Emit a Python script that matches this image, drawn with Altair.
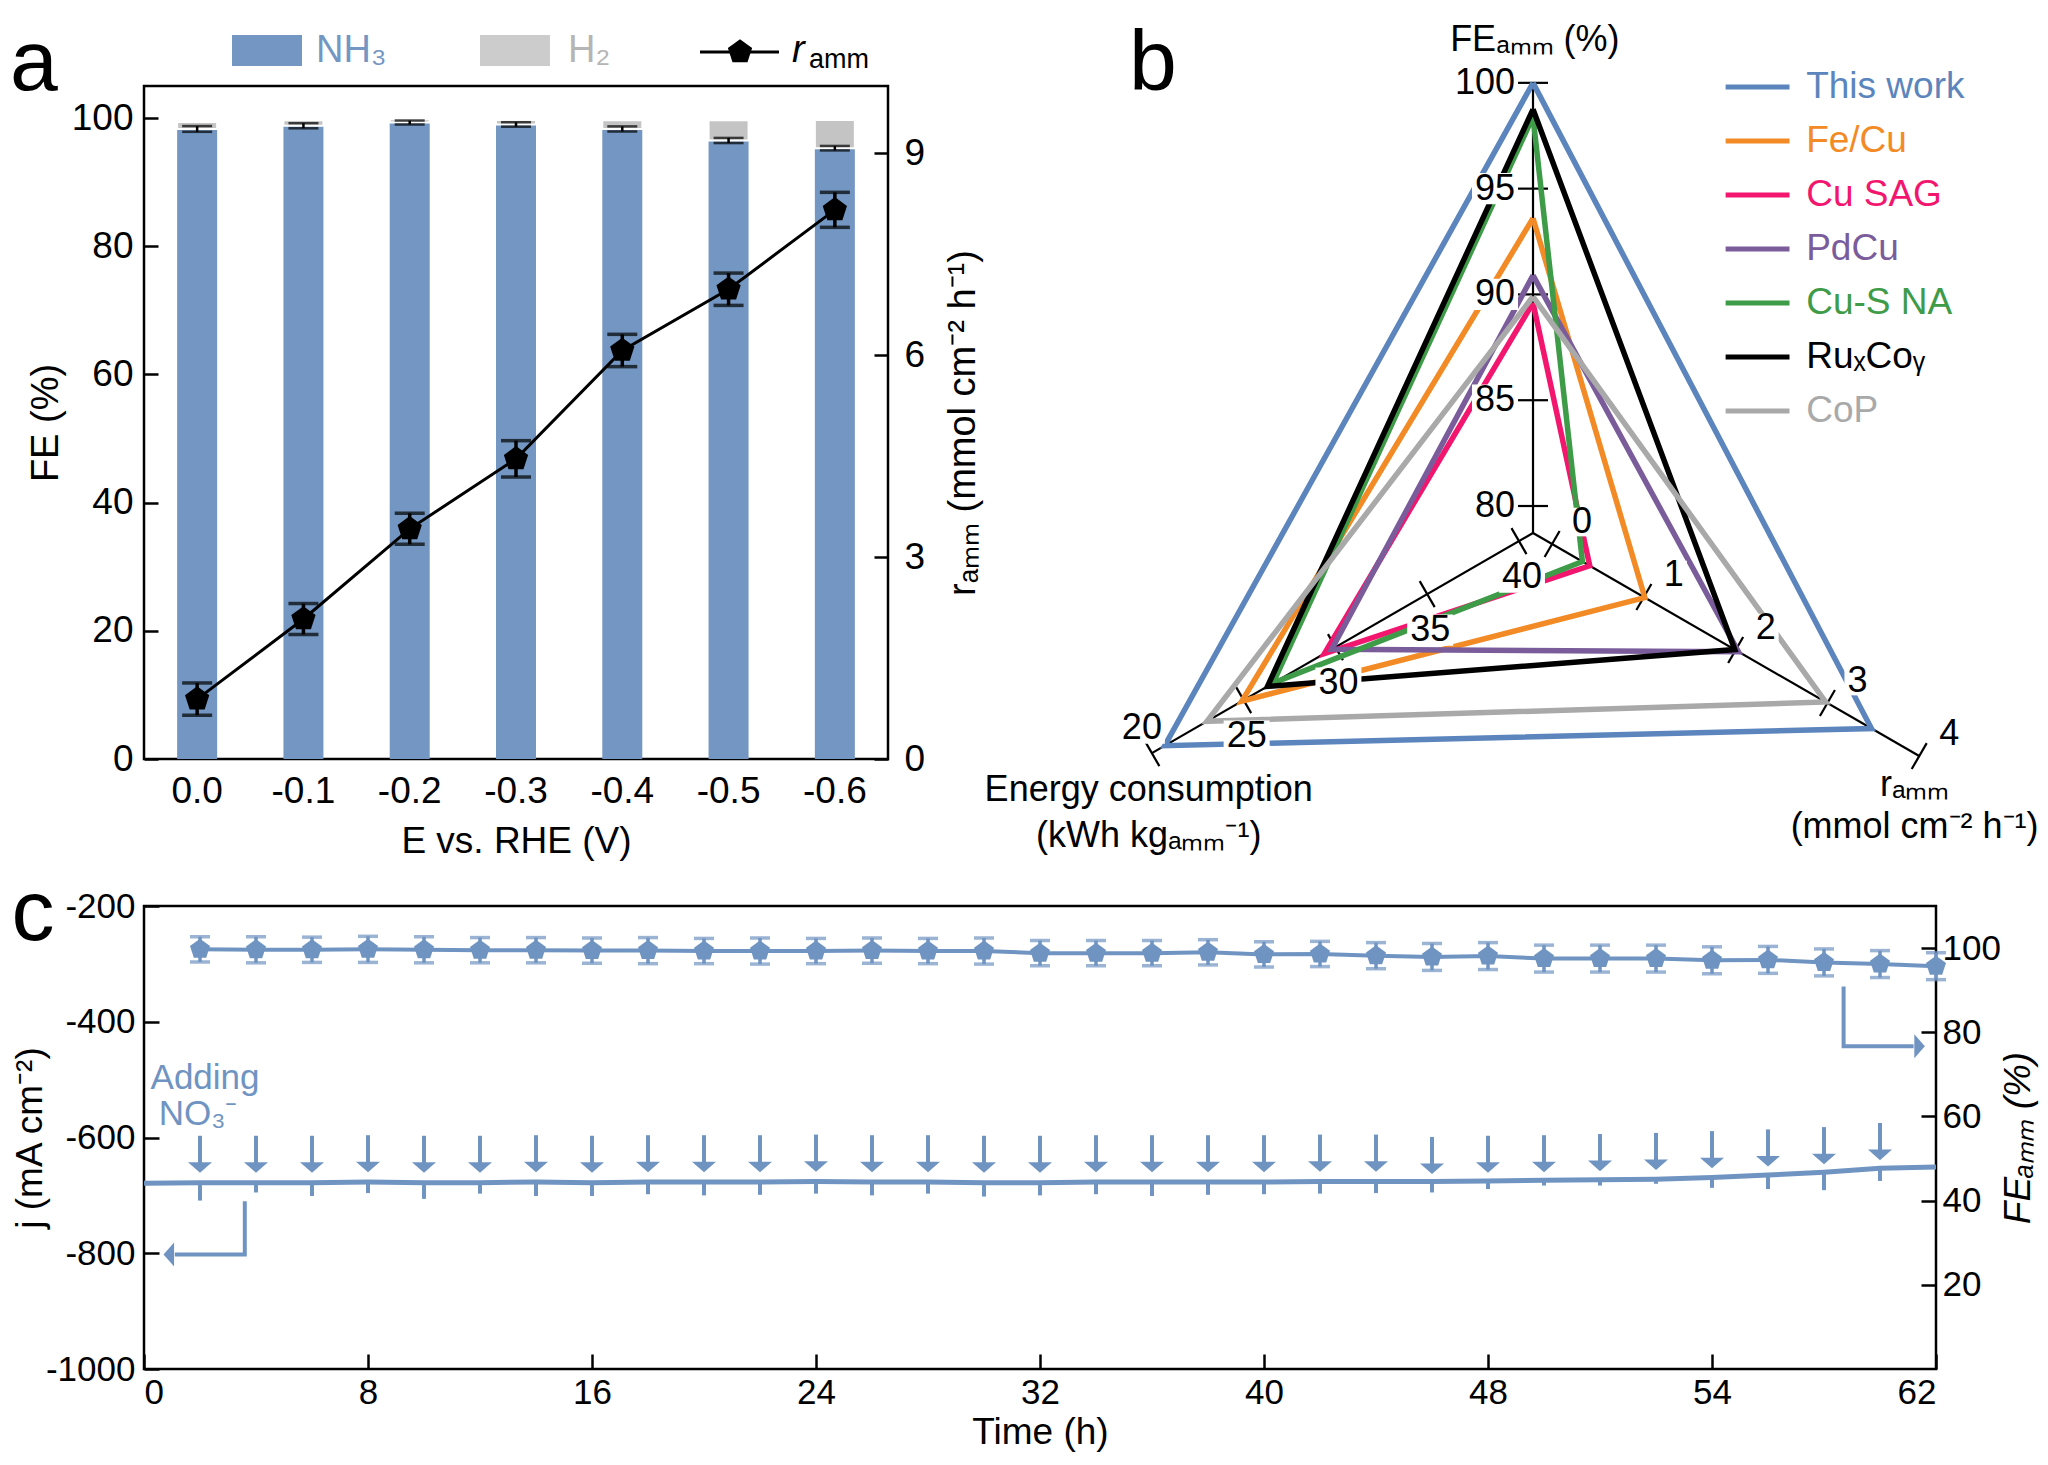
import pandas as pd
import altair as alt

FONT = "Liberation Sans"
BAR_BLUE = "#7396C2"
LINE_BLUE = "#7094C2"
H2_GRAY = "#C4C4C4"
PENTAGON = "M0,-1L0.951,-0.309L0.588,0.809L-0.588,0.809L-0.951,-0.309Z"

# ---------------- panel a: FE and ammonia yield rate vs potential
potentials = ["0.0", "-0.1", "-0.2", "-0.3", "-0.4", "-0.5", "-0.6"]
fe_nh3 = [98.3, 98.8, 99.3, 99.0, 98.3, 96.5, 95.3]
fe_nh3_err = [0.45, 0.4, 0.3, 0.35, 0.4, 0.4, 0.35]
fe_h2 = [1.1, 0.85, 0.5, 0.7, 1.35, 3.15, 4.4]
r_amm = [0.89, 2.08, 3.42, 4.46, 6.07, 6.98, 8.16]
r_amm_err = [0.24, 0.23, 0.23, 0.27, 0.24, 0.24, 0.26]

# ---------------- panel b: comparison triangle
samples = ["This work", "Fe/Cu", "Cu SAG", "PdCu", "Cu-S NA", "RuₓCoᵧ", "CoP"]
sample_colors = ["#5B85BC", "#F28A26", "#F2166E", "#7A5C9B", "#3E9B47", "#000000", "#A9A9A9"]
fe_amm_b = [100.0, 93.6, 89.6, 90.9, 98.4, 98.75, 89.9]
r_amm_b = [3.48, 1.01, 0.41, 2.03, 0.33, 1.99, 2.98]
energy_b = [20.7, 24.9, 29.4, 29.8, 26.6, 26.3, 23.0]
fe_ticks_b = [80, 85, 90, 95, 100]
r_ticks_b = [0, 1, 2, 3, 4]
e_ticks_b = [40, 35, 30, 25, 20]

# ---------------- panel c: stability test
time_ticks = [0, 8, 16, 24, 32, 40, 48, 56, 64]
time_labels = ["0", "8", "16", "24", "32", "40", "48", "54", "62"]
fe_time = [2, 4, 6, 8, 10, 12, 14, 16, 18, 20, 22, 24, 26, 28, 30, 32,
           34, 36, 38, 40, 42, 44, 46, 48, 50, 52, 54, 56, 58, 60, 62, 64]
fe_c = [99.7, 99.6, 99.6, 99.7, 99.6, 99.5, 99.5, 99.4, 99.4, 99.3, 99.3, 99.3, 99.4, 99.3, 99.3, 98.8,
        98.8, 98.8, 99.0, 98.5, 98.6, 98.2, 97.9, 98.1, 97.5, 97.5, 97.5, 97.1, 97.2, 96.6, 96.2, 95.7]
fe_c_err = [3.0, 3.1, 3.0, 3.1, 3.1, 3.0, 3.0, 3.0, 3.1, 3.0, 3.1, 3.0, 3.0, 3.0, 3.1, 3.0,
            3.0, 3.0, 3.0, 3.0, 3.0, 3.1, 3.2, 3.2, 3.2, 3.2, 3.2, 3.2, 3.2, 3.2, 3.2, 3.2]
j_time = [0, 2, 4, 6, 8, 10, 12, 14, 16, 18, 20, 22, 24, 26, 28, 30, 32,
          34, 36, 38, 40, 42, 44, 46, 48, 50, 52, 54, 56, 58, 60, 62, 64]
j_c = [-679, -678, -678, -678, -677, -678, -678, -677, -678, -677, -677, -677, -676, -677, -677, -678, -678,
       -677, -677, -677, -677, -676, -676, -676, -675, -674, -673, -672, -669, -665, -660, -653, -651]
add_time = [2, 4, 6, 8, 10, 12, 14, 16, 18, 20, 22, 24, 26, 28, 30, 32,
            34, 36, 38, 40, 42, 44, 46, 48, 50, 52, 54, 56, 58, 60, 62]
spike_c = [-709, -695, -701, -696, -706, -697, -701, -701, -698, -700, -699, -697, -700, -697, -702, -700,
           -698, -701, -699, -698, -697, -696, -695, -689, -683, -683, -680, -687, -689, -691, -675]
arrow_tip = [-661, -661, -661, -660, -661, -661, -660, -661, -660, -660, -660, -659, -660, -660, -661, -661,
             -660, -660, -660, -660, -659, -659, -663, -661, -660, -658, -656, -653, -650, -646, -639]
elbow_left_t = [3.6, 3.6, 1.1]
elbow_left_j = [-710, -802, -802]
elbow_right_t = [60.7, 60.7, 63.2]
elbow_right_fe = [90.9, 76.7, 76.7]

one_row = pd.DataFrame({"k": [0]})

# ======================= panel a
df_a = pd.DataFrame({"E": potentials, "nh3": fe_nh3, "nerr": fe_nh3_err, "h2": fe_h2,
                     "r": r_amm, "rerr": r_amm_err})
base_a = alt.Chart(df_a).transform_calculate(
    top="datum.nh3 + datum.h2",
    nlo="datum.nh3 - datum.nerr", nhi="datum.nh3 + datum.nerr",
    rlo="datum.r - datum.rerr", rhi="datum.r + datum.rerr",
)
x_a = alt.X("E:N", sort=potentials, scale=alt.Scale(paddingInner=0, paddingOuter=0),
            axis=alt.Axis(title="E vs. RHE (V)", labelAngle=0, ticks=False, tickSize=0,
                          labelFontSize=37, titleFontSize=37, labelPadding=14, titlePadding=14))
fe_scale = alt.Scale(domain=[0, 105], nice=False)
fe_axis = alt.Axis(title="FE (%)", values=[0, 20, 40, 60, 80, 100], tickSize=14, offset=-14,
                   labelFontSize=37, titleFontSize=38, labelPadding=11, titlePadding=6)
r_scale = alt.Scale(domain=[0, 10], nice=False)
r_axis = alt.Axis(title="rₐₘₘ (mmol cm⁻² h⁻¹)", orient="right", values=[0, 3, 6, 9], tickSize=14,
                  offset=-14, labelFontSize=37, titleFontSize=38, labelPadding=16, titlePadding=20,
                  titleAngle=270, titleBaseline="top")

nh3_bars = base_a.mark_bar(size=40, color=BAR_BLUE).encode(
    x=x_a, y=alt.Y("nh3:Q", scale=fe_scale, axis=fe_axis))
h2_bars = base_a.mark_bar(size=40, color=H2_GRAY, stroke="white", strokeWidth=2).encode(
    x=x_a, y=alt.Y("nh3:Q", scale=fe_scale, axis=fe_axis), y2="top:Q")
nh3_err = base_a.mark_rule(color="black", strokeWidth=2.5).encode(
    x=x_a, y=alt.Y("nlo:Q", scale=fe_scale, axis=fe_axis), y2="nhi:Q")
nh3_cap_lo = base_a.mark_tick(orient="horizontal", size=30, thickness=2.5, color="black").encode(
    x=x_a, y=alt.Y("nlo:Q", scale=fe_scale, axis=fe_axis))
nh3_cap_hi = base_a.mark_tick(orient="horizontal", size=30, thickness=2.5, color="black").encode(
    x=x_a, y=alt.Y("nhi:Q", scale=fe_scale, axis=fe_axis))

# legend and panel letter, placed in pixels above the plot
leg = alt.Chart(one_row)
leg_nh3 = leg.mark_rect(color=BAR_BLUE).encode(
    x=alt.value(88), x2=alt.value(158), y=alt.value(-51), y2=alt.value(-20))
leg_nh3_t = leg.mark_text(text="NH₃", align="left", fontSize=38, color=BAR_BLUE).encode(
    x=alt.value(172), y=alt.value(-35))
leg_h2 = leg.mark_rect(color="#CCCCCC").encode(
    x=alt.value(336), x2=alt.value(406), y=alt.value(-51), y2=alt.value(-20))
leg_h2_t = leg.mark_text(text="H₂", align="left", fontSize=38, color="#B5B5B5").encode(
    x=alt.value(424), y=alt.value(-35))
leg_r_line = leg.mark_rule(color="black", strokeWidth=3).encode(
    x=alt.value(556), x2=alt.value(635), y=alt.value(-34))
leg_r_pt = leg.mark_point(shape=PENTAGON, size=650, filled=True, color="black", opacity=1).encode(
    x=alt.value(596), y=alt.value(-34))
leg_r_t = leg.mark_text(text="r", align="left", baseline="alphabetic", fontSize=38,
                        fontStyle="italic").encode(x=alt.value(648), y=alt.value(-24))
leg_r_sub = leg.mark_text(text="amm", align="left", baseline="alphabetic", fontSize=27).encode(
    x=alt.value(665), y=alt.value(-18))
letter_a = leg.mark_text(text="a", align="center", baseline="alphabetic", fontSize=86).encode(
    x=alt.value(-110), y=alt.value(4))

left_a = alt.layer(nh3_bars, h2_bars, nh3_err, nh3_cap_lo, nh3_cap_hi,
                   leg_nh3, leg_nh3_t, leg_h2, leg_h2_t, leg_r_line, leg_r_pt, leg_r_t, leg_r_sub,
                   letter_a)

r_line = base_a.mark_line(color="black", strokeWidth=3).encode(
    x=x_a, y=alt.Y("r:Q", scale=r_scale, axis=r_axis))
r_err = base_a.mark_rule(color="black", strokeWidth=3.5).encode(
    x=x_a, y=alt.Y("rlo:Q", scale=r_scale, axis=r_axis), y2="rhi:Q")
r_cap_lo = base_a.mark_tick(orient="horizontal", size=30, thickness=3.5, color="black").encode(
    x=x_a, y=alt.Y("rlo:Q", scale=r_scale, axis=r_axis))
r_cap_hi = base_a.mark_tick(orient="horizontal", size=30, thickness=3.5, color="black").encode(
    x=x_a, y=alt.Y("rhi:Q", scale=r_scale, axis=r_axis))
r_pts = base_a.mark_point(shape=PENTAGON, size=650, filled=True, color="black", opacity=1).encode(
    x=x_a, y=alt.Y("r:Q", scale=r_scale, axis=r_axis))
right_a = alt.layer(r_line, r_err, r_cap_lo, r_cap_hi, r_pts)

panel_a = alt.layer(left_a, right_a).resolve_scale(y="independent").properties(width=744, height=673)

# ======================= panel b
R_PX = 450.0
RAD_EXPR = ("datum.axis == 'FE' ? 0.06 + 0.94 * (datum.v - 80) / 20 : "
            "datum.axis == 'r' ? 0.049 + 0.942 * datum.v / 4 : "
            "0.036 + 0.942 * (40 - datum.v) / 20")
ANG_EXPR = "datum.axis == 'FE' ? PI / 2 : datum.axis == 'r' ? -PI / 6 : 7 * PI / 6"


def radar_xy(chart):
    return chart.transform_calculate(rad=RAD_EXPR, ang=ANG_EXPR).transform_calculate(
        px="datum.rad * cos(datum.ang)", py="datum.rad * sin(datum.ang)", zero="0")


bx = alt.Scale(domain=[-1.1778, 1.1133], nice=False, zero=False)
by = alt.Scale(domain=[-0.502, 0.993], nice=False, zero=False)


def X(f):
    return alt.X(f, scale=bx, axis=None)


def Y(f):
    return alt.Y(f, scale=by, axis=None)


color_b = alt.Color("sample:N", scale=alt.Scale(domain=samples, range=sample_colors), legend=None)

radar_rows = []
for s, fe, r, e in zip(samples, fe_amm_b, r_amm_b, energy_b):
    radar_rows += [dict(sample=s, k=0, axis="FE", v=fe), dict(sample=s, k=1, axis="r", v=r),
                   dict(sample=s, k=2, axis="E", v=e), dict(sample=s, k=3, axis="FE", v=fe)]
df_radar = pd.DataFrame(radar_rows)

tick_rows = ([dict(axis="FE", v=v) for v in fe_ticks_b] + [dict(axis="r", v=v) for v in r_ticks_b]
             + [dict(axis="E", v=v) for v in e_ticks_b])
df_ticks = pd.DataFrame(tick_rows)
df_ticks["label"] = df_ticks["v"].astype(str)
df_outer = pd.DataFrame({"axis": ["FE", "r", "E"], "v": [fe_ticks_b[-1], r_ticks_b[-1], e_ticks_b[-1]]})

TL = 15 / R_PX
ticks_b = radar_xy(alt.Chart(df_ticks)).transform_calculate(
    tx1=f"datum.px - {TL} * sin(datum.ang)", ty1=f"datum.py + {TL} * cos(datum.ang)",
    tx2=f"datum.px + {TL} * sin(datum.ang)", ty2=f"datum.py - {TL} * cos(datum.ang)",
    lx=(f"datum.axis == 'FE' ? datum.px - (18 + 10 * length(datum.label)) / {R_PX} : "
        f"datum.axis == 'r' ? datum.px + 30 / {R_PX} : "
        f"(datum.v == 20 ? datum.px - 10 / {R_PX} : datum.px + 3 / {R_PX})"),
    ly=(f"datum.axis == 'FE' ? datum.py : datum.axis == 'r' ? datum.py + 22 / {R_PX} : "
        f"(datum.v == 20 ? datum.py + 25 / {R_PX} : datum.py - 36 / {R_PX})"),
)
axis_lines = radar_xy(alt.Chart(df_outer)).mark_rule(color="black", strokeWidth=2.2).encode(
    x=X("zero:Q"), y=Y("zero:Q"), x2="px:Q", y2="py:Q")
tick_marks = ticks_b.mark_rule(color="black", strokeWidth=2.2).encode(
    x=X("tx1:Q"), y=Y("ty1:Q"), x2="tx2:Q", y2="ty2:Q")
series = radar_xy(alt.Chart(df_radar)).mark_line(strokeWidth=5.5, strokeJoin="miter").encode(
    x=X("px:Q"), y=Y("py:Q"), color=color_b, order=alt.Order("k:Q"))
box_small = ticks_b.transform_filter("length(datum.label) == 1").mark_point(
    shape="M-1,-1.1L1,-1.1L1,1.1L-1,1.1Z", size=26 ** 2, filled=True, color="white", opacity=1,
    strokeWidth=0).encode(x=X("lx:Q"), y=Y("ly:Q"))
box_wide = ticks_b.transform_filter("length(datum.label) == 2").mark_point(
    shape="M-1,-0.68L1,-0.68L1,0.68L-1,0.68Z", size=46 ** 2, filled=True, color="white", opacity=1,
    strokeWidth=0).encode(x=X("lx:Q"), y=Y("ly:Q"))
tick_labels = ticks_b.mark_text(fontSize=36, color="black").encode(
    x=X("lx:Q"), y=Y("ly:Q"), text="label:N")

df_leg_b = pd.DataFrame({"sample": samples, "idx": list(range(len(samples)))})
leg_b = alt.Chart(df_leg_b).transform_calculate(
    ly="0.991 - datum.idx * 0.12", lx1="0.428", lx2="0.570", tx="0.607")
leg_b_lines = leg_b.mark_rule(strokeWidth=5).encode(
    x=X("lx1:Q"), x2="lx2:Q", y=Y("ly:Q"), color=color_b)
leg_b_text = leg_b.mark_text(align="left", fontSize=37).encode(
    x=X("tx:Q"), y=Y("ly:Q"), text="sample:N", color=color_b)

df_titles_b = pd.DataFrame({
    "txt": ["FEₐₘₘ (%)", "Energy consumption", "(kWh kgₐₘₘ⁻¹)", "rₐₘₘ", "(mmol cm⁻² h⁻¹)"],
    "x": [0.004, -0.854, -0.854, 0.848, 0.848],
    "y": [1.096, -0.571, -0.673, -0.560, -0.653],
})
titles_b = alt.Chart(df_titles_b).mark_text(fontSize=36, color="black").encode(
    x=X("x:Q"), y=Y("y:Q"), text="txt:N")
letter_b = alt.Chart(one_row).mark_text(text="b", align="center", baseline="alphabetic",
                                        fontSize=86).encode(x=alt.value(150), y=alt.value(4))

panel_b = alt.layer(
    axis_lines, tick_marks, series, box_small, box_wide, tick_labels, leg_b_lines, leg_b_text,
    titles_b, letter_b,
).properties(width=1031, height=673, view=alt.ViewBackground(stroke="transparent"))

# ======================= panel c
label_expr = ("[" + ",".join(f"'{s}'" for s in time_labels) + "][indexof(["
              + ",".join(str(t) for t in time_ticks) + "], datum.value)]")
x_c_axis = alt.Axis(title="Time (h)", values=time_ticks, labelExpr=label_expr, tickSize=15, offset=-15,
                    labelFontSize=35, titleFontSize=37, labelPadding=6, titlePadding=4)
t_scale = alt.Scale(domain=[0, 64], nice=False)
j_scale = alt.Scale(domain=[-1000, -200], nice=False)
j_axis = alt.Axis(title="j (mA cm⁻²)", values=[-1000, -800, -600, -400, -200], labelExpr="toString(datum.value)",
                  tickSize=15, offset=-15, labelFontSize=35, titleFontSize=37, labelPadding=9,
                  titlePadding=-4)
fe_c_scale = alt.Scale(domain=[0, 110], nice=False)
fe_c_axis = alt.Axis(title="FEₐₘₘ (%)", orient="right", values=[20, 40, 60, 80, 100], tickSize=15,
                     offset=-15, labelFontSize=35, titleFontSize=37, labelPadding=6, titlePadding=0,
                     titleAngle=270, titleBaseline="top", titleFontStyle="italic")


def XC(f):
    return alt.X(f, scale=t_scale, axis=x_c_axis)


def YJ(f):
    return alt.Y(f, scale=j_scale, axis=j_axis)


def YF(f):
    return alt.Y(f, scale=fe_c_scale, axis=fe_c_axis)


df_j = pd.DataFrame({"t": j_time, "j": j_c})
df_add = pd.DataFrame({"t": add_time, "spike": spike_c, "tip": arrow_tip})
df_add = df_add.merge(df_j, on="t")
df_elbow_l = pd.DataFrame({"seq": [0, 1, 2], "t": elbow_left_t, "j": elbow_left_j})
df_elbow_r = pd.DataFrame({"seq": [0, 1, 2], "t": elbow_right_t, "fe": elbow_right_fe})
df_fe = pd.DataFrame({"t": fe_time, "fe": fe_c, "err": fe_c_err})

j_line = alt.Chart(df_j).mark_line(color=LINE_BLUE, strokeWidth=5).encode(x=XC("t:Q"), y=YJ("j:Q"))
add_c = alt.Chart(df_add).transform_calculate(
    shaft_top="datum.tip + 64", head_base="datum.tip + 15", head_mid="datum.tip + 9")
spikes = add_c.mark_rule(color=LINE_BLUE, strokeWidth=4).encode(x=XC("t:Q"), y=YJ("j:Q"), y2="spike:Q")
shafts = add_c.mark_rule(color=LINE_BLUE, strokeWidth=4).encode(
    x=XC("t:Q"), y=YJ("shaft_top:Q"), y2="head_base:Q")
heads = add_c.mark_point(shape="M-1,-0.44L1,-0.44L0,0.44Z", size=24 ** 2, filled=True,
                         color=LINE_BLUE, opacity=1).encode(x=XC("t:Q"), y=YJ("head_mid:Q"))
elbow_l = alt.Chart(df_elbow_l).mark_line(color=LINE_BLUE, strokeWidth=4).encode(
    x=XC("t:Q"), y=YJ("j:Q"), order="seq:Q")
elbow_l_head = alt.Chart(df_elbow_l).transform_filter("datum.seq == 2").mark_point(
    shape="M-0.44,0L0.44,-1L0.44,1Z", size=24 ** 2, filled=True, color=LINE_BLUE, opacity=1,
    xOffset=-6).encode(x=XC("t:Q"), y=YJ("j:Q"))
df_note = pd.DataFrame({"t": [2.18, 1.93], "j": [-497, -560], "txt": ["Adding", "NO₃⁻"]})
note = alt.Chart(df_note).mark_text(fontSize=35, color=LINE_BLUE).encode(
    x=XC("t:Q"), y=YJ("j:Q"), text="txt:N")
letter_c = alt.Chart(one_row).mark_text(text="c", align="center", baseline="alphabetic",
                                        fontSize=86).encode(x=alt.value(-111), y=alt.value(34))
left_c = alt.layer(j_line, spikes, shafts, heads, elbow_l, elbow_l_head, note, letter_c)

fe_base = alt.Chart(df_fe).transform_calculate(lo="datum.fe - datum.err", hi="datum.fe + datum.err")
fe_line = fe_base.mark_line(color=LINE_BLUE, strokeWidth=4).encode(x=XC("t:Q"), y=YF("fe:Q"))
fe_err = fe_base.mark_rule(color=LINE_BLUE, strokeWidth=3.5).encode(x=XC("t:Q"), y=YF("lo:Q"), y2="hi:Q")
fe_cap_lo = fe_base.mark_tick(orient="horizontal", size=20, thickness=3.5, color=LINE_BLUE).encode(
    x=XC("t:Q"), y=YF("lo:Q"))
fe_cap_hi = fe_base.mark_tick(orient="horizontal", size=20, thickness=3.5, color=LINE_BLUE).encode(
    x=XC("t:Q"), y=YF("hi:Q"))
fe_pts = fe_base.mark_point(shape=PENTAGON, size=441, filled=True, color=LINE_BLUE, opacity=1).encode(
    x=XC("t:Q"), y=YF("fe:Q"))
elbow_r = alt.Chart(df_elbow_r).mark_line(color=LINE_BLUE, strokeWidth=4).encode(
    x=XC("t:Q"), y=YF("fe:Q"), order="seq:Q")
elbow_r_head = alt.Chart(df_elbow_r).transform_filter("datum.seq == 2").mark_point(
    shape="M0.44,0L-0.44,-1L-0.44,1Z", size=24 ** 2, filled=True, color=LINE_BLUE, opacity=1,
    xOffset=6).encode(x=XC("t:Q"), y=YF("fe:Q"))
right_c = alt.layer(fe_line, fe_err, fe_cap_lo, fe_cap_hi, fe_pts, elbow_r, elbow_r_head)

panel_c = alt.layer(left_c, right_c).resolve_scale(y="independent").properties(
    width=1792, height=463)

top_row = alt.hconcat(panel_a, panel_b, spacing=115, bounds="flush")
chart = alt.vconcat(top_row, panel_c, spacing=8).properties(
    padding={"left": 0, "top": 11, "right": 0, "bottom": 0}
).configure_view(
    stroke="black", strokeWidth=2.5
).configure_axis(
    labelFont=FONT, titleFont=FONT, labelColor="black", titleColor="black", tickColor="black",
    tickWidth=2.5, grid=False, domain=False, titleFontWeight="normal"
).configure_text(font=FONT)

chart.save("out.html", embed_options={"renderer": "svg", "actions": False})
